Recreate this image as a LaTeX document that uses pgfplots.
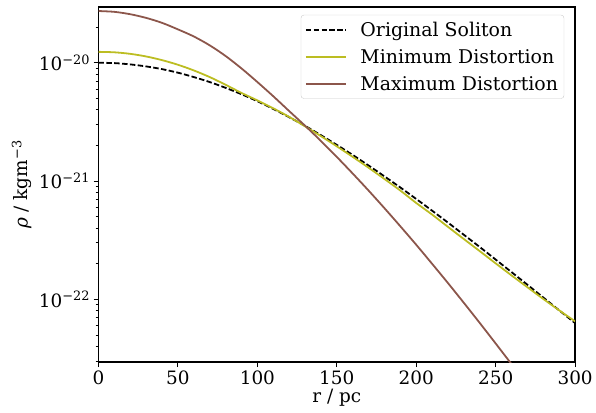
\documentclass[border=0pt]{standalone}
\usepackage{fontspec}
\setmainfont{DejaVu Serif}
\usepackage{pgfplots}
\pgfplotsset{compat=1.18}
\definecolor{molive}{HTML}{BCBD22}
\definecolor{mbrown}{HTML}{8C564B}
\definecolor{lgray}{HTML}{CCCCCC}
\begin{document}
\begin{tikzpicture}[font=\fontsize{18.5}{22}\selectfont]
\begin{axis}[
  scale only axis, width=479pt, height=357pt,
  ymode=log,
  xmin=0, xmax=300, ymin=2.95e-23, ymax=2.958e-20,
  /pgf/number format/assume math mode=true,
  xtick={0,50,100,150,200,250,300},
  ytick={1e-22,1e-21,1e-20},
  yticklabels={10\textsuperscript{−22},10\textsuperscript{−21},10\textsuperscript{−20}},
  minor ytick={3e-23,4e-23,5e-23,6e-23,7e-23,8e-23,9e-23,2e-22,3e-22,4e-22,5e-22,6e-22,7e-22,8e-22,9e-22,2e-21,3e-21,4e-21,5e-21,6e-21,7e-21,8e-21,9e-21,2e-20},
  tick align=outside, tick pos=left,
  major tick length=5pt, minor tick length=3pt,
  every tick/.style={black, line width=1pt},
  axis line style={line width=1.6pt},
  xlabel={r / pc},
  ylabel={\textit{ρ} / kgm\textsuperscript{−3}},
  x label style={at={(axis description cs:0.5,-0.101)}, anchor=center},
  y label style={at={(axis description cs:-0.161,0.5)}, anchor=center},
  legend cell align=left,
  legend style={at={(axis description cs:0.977,0.978)}, anchor=north east,
    draw=lgray, rounded corners=3pt, fill=white, inner xsep=4pt, inner ysep=5pt,
    row sep=7.5pt, font=\fontsize{19}{22}\selectfont, nodes={inner sep=2pt}},
  legend image code/.code={\draw[#1] (0pt,0pt) -- (40pt,0pt); \path (52pt,0pt);},
]
\addplot[black, line width=1.8pt, dash pattern=on 5.5pt off 2.4pt, smooth] coordinates {
(0,1.000e-20)(10,9.931e-21)(20,9.683e-21)(30,9.311e-21)(40,8.831e-21)(50,8.241e-21)
(60,7.568e-21)(70,6.871e-21)(80,6.138e-21)(90,5.420e-21)(100,4.732e-21)(110,4.074e-21)
(120,3.467e-21)(130,2.931e-21)(140,2.443e-21)(150,2.023e-21)(160,1.663e-21)(170,1.355e-21)
(180,1.096e-21)(190,8.831e-22)(200,7.063e-22)(210,5.623e-22)(220,4.457e-22)(230,3.516e-22)
(240,2.773e-22)(250,2.173e-22)(260,1.702e-22)(270,1.330e-22)(280,1.038e-22)(290,8.091e-23)
(300,6.310e-23)};
\addlegendentry{Original Soliton}
\addplot[molive, line width=1.8pt, smooth] coordinates {
(0,1.236e-20)(10,1.225e-20)(20,1.189e-20)(30,1.130e-20)(40,1.052e-20)(50,9.616e-21)
(60,8.610e-21)(70,7.568e-21)(80,6.516e-21)(90,5.559e-21)(100,4.808e-21)(110,4.121e-21)
(120,3.491e-21)(130,2.904e-21)(140,2.399e-21)(150,1.968e-21)(160,1.603e-21)(170,1.297e-21)
(180,1.042e-21)(190,8.318e-22)(200,6.531e-22)(210,5.212e-22)(220,4.102e-22)(230,3.236e-22)
(240,2.559e-22)(250,2.018e-22)(260,1.596e-22)(270,1.268e-22)(280,1.009e-22)(290,8.091e-23)
(300,6.531e-23)};
\addlegendentry{Minimum Distortion}
\addplot[mbrown, line width=1.8pt, smooth] coordinates {
(0,2.735e-20)(10,2.692e-20)(20,2.570e-20)(30,2.393e-20)(40,2.173e-20)(50,1.914e-20)
(60,1.667e-20)(70,1.403e-20)(80,1.140e-20)(90,8.954e-21)(100,6.871e-21)(110,5.212e-21)
(120,3.908e-21)(130,2.938e-21)(140,2.183e-21)(150,1.600e-21)(160,1.159e-21)(170,8.318e-22)
(180,5.902e-22)(190,4.150e-22)(200,2.897e-22)(210,2.000e-22)(220,1.374e-22)(230,9.354e-23)
(240,6.324e-23)(250,4.246e-23)(260,2.838e-23)};
\addlegendentry{Maximum Distortion}
\end{axis}
\path (current axis.south west) ++(-99pt,-51pt) rectangle ++(596pt,415pt);
\end{tikzpicture}
\end{document}
